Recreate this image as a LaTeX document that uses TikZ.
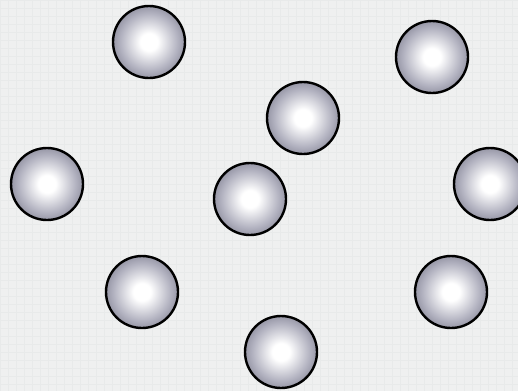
\documentclass[tikz,border=0pt]{standalone}
\definecolor{bgc}{RGB}{239,240,240}
\definecolor{gridc}{RGB}{232,234,234}
\definecolor{balledge}{RGB}{98,98,116}
\definecolor{ballmid}{RGB}{178,178,192}
\pgfdeclareradialshading{ballsh}{\pgfpoint{0bp}{0bp}}{%
  color(0bp)=(white); color(6bp)=(white); color(20bp)=(ballmid); color(35bp)=(balledge); color(50bp)=(balledge)}
\tikzset{
  ball/.style={circle, draw=black, line width=2.4pt, minimum size=72pt, inner sep=0pt, shading=ballsh}
}
\begin{document}
\begin{tikzpicture}[x=1pt,y=-1pt]
\useasboundingbox (0,0) rectangle (518,391);
\fill[bgc] (0,0) rectangle (518,391);
\foreach \i in {0,8,...,518} \draw[gridc, line width=0.5pt] (\i,0) -- (\i,391);
\foreach \j in {0,8,...,391} \draw[gridc, line width=0.5pt] (0,\j) -- (518,\j);
\node[ball] (b1) at (149,42) {};
\node[ball] (b2) at (432,57) {};
\node[ball] (b3) at (303,118) {};
\node[ball] (b4) at (47,184) {};
\node[ball] (b5) at (250,199) {};
\node[ball] (b6) at (490,184) {};
\node[ball] (b7) at (142,292) {};
\node[ball] (b8) at (451,292) {};
\node[ball] (b9) at (281,352) {};
\end{tikzpicture}
\end{document}
